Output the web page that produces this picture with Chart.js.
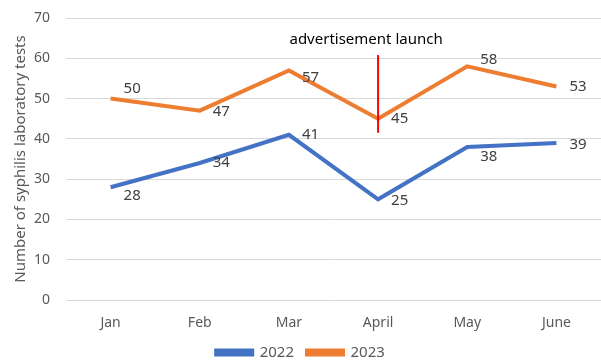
<!DOCTYPE html>
<html>
<head>
<meta charset="utf-8">
<script src="https://cdn.jsdelivr.net/npm/chart.js@4"></script>
<style>
  html, body { margin: 0; padding: 0; background: #fff; }
  #wrap { width: 601px; height: 363px; }
</style>
</head>
<body>
<div id="wrap"><canvas id="myChart" width="601" height="363"></canvas></div>
<script>
const months = ['Jan', 'Feb', 'Mar', 'April', 'May', 'June'];
const tests2022 = [28, 34, 41, 25, 38, 39];
const tests2023 = [50, 47, 57, 45, 58, 53];
const yTicks = [0, 10, 20, 30, 40, 50, 60, 70];

// launch marker
const launchMonth = 'April';
const launchText = 'advertisement launch';
const launchFrom = 41.5;
const launchTo = 60.8;

// small vertical nudges for the value labels (px)
const nudge2022 = [9, 0, 0, 1, 10, 2];
const nudge2023 = [-10, 1, 7, 0, -7, 0];

const FONT = 'Noto Sans';

const valueLabels = {
  id: 'valueLabels',
  afterDatasetsDraw(chart) {
    const c = chart.ctx;
    c.save();
    c.font = '15px "' + FONT + '"';
    c.fillStyle = '#404040';
    c.textAlign = 'left';
    c.textBaseline = 'middle';
    chart.data.datasets.forEach(function (ds, i) {
      const meta = chart.getDatasetMeta(i);
      const nudges = ds.nudges;
      meta.data.forEach(function (pt, j) {
        c.fillText(String(ds.data[j]), pt.x + 13, pt.y + nudges[j]);
      });
    });
    c.restore();
  },
};

const launchLine = {
  id: 'launchLine',
  afterDatasetsDraw(chart) {
    const c = chart.ctx;
    const x = chart.scales.x.getPixelForValue(months.indexOf(launchMonth));
    const y = chart.scales.y;
    c.save();
    c.strokeStyle = '#ff0000';
    c.lineWidth = 2;
    c.beginPath();
    c.moveTo(x, y.getPixelForValue(launchTo));
    c.lineTo(x, y.getPixelForValue(launchFrom));
    c.stroke();
    c.font = '15px "' + FONT + '"';
    c.fillStyle = '#000';
    c.textAlign = 'center';
    c.textBaseline = 'middle';
    c.fillText(launchText, x - 12, y.getPixelForValue(64.6));
    c.restore();
  },
};

const ctx = document.getElementById('myChart').getContext('2d');

const chart = new Chart(ctx, {
  type: 'line',
  data: {
    labels: months,
    datasets: [
      {
        label: '2022',
        data: tests2022,
        borderColor: '#4472C4',
        backgroundColor: '#4472C4',
        borderWidth: 4,
        pointRadius: 0,
        tension: 0,
        nudges: nudge2022,
      },
      {
        label: '2023',
        data: tests2023,
        borderColor: '#ED7D31',
        backgroundColor: '#ED7D31',
        borderWidth: 4,
        pointRadius: 0,
        tension: 0,
        nudges: nudge2023,
      },
    ],
  },
  options: {
    responsive: false,
    animation: false,
    layout: { padding: { top: 18, right: 0, left: 0, bottom: -7 } },
    plugins: {
      tooltip: { enabled: false },
      legend: {
        position: 'bottom',
        labels: {
          boxWidth: 36,
          boxHeight: 4,
          padding: 13,
          color: '#595959',
          font: { family: FONT, size: 15 },
        },
      },
    },
    scales: {
      x: {
        offset: true,
        grid: { display: false },
        border: { display: false },
        ticks: { color: '#595959', font: { family: FONT, size: 14 }, padding: 7 },
        afterFit(scale) { scale.height = 32; },
      },
      y: {
        min: 0,
        max: 70,
        afterBuildTicks(scale) { scale.ticks = yTicks.map(v => ({ value: v })); },
        grid: { color: '#d9d9d9', lineWidth: 1, drawTicks: false },
        border: { display: false },
        ticks: { color: '#595959', font: { family: FONT, size: 14, lineHeight: 0.1 }, padding: 16 },
        title: {
          display: true,
          text: 'Number of syphilis laboratory tests',
          color: '#595959',
          font: { family: FONT, size: 15 },
          padding: { top: 12, bottom: 0 },
        },
        afterFit(scale) { scale.width = 66; },
      },
    },
  },
  plugins: [valueLabels, launchLine],
});
</script>
</body>
</html>
